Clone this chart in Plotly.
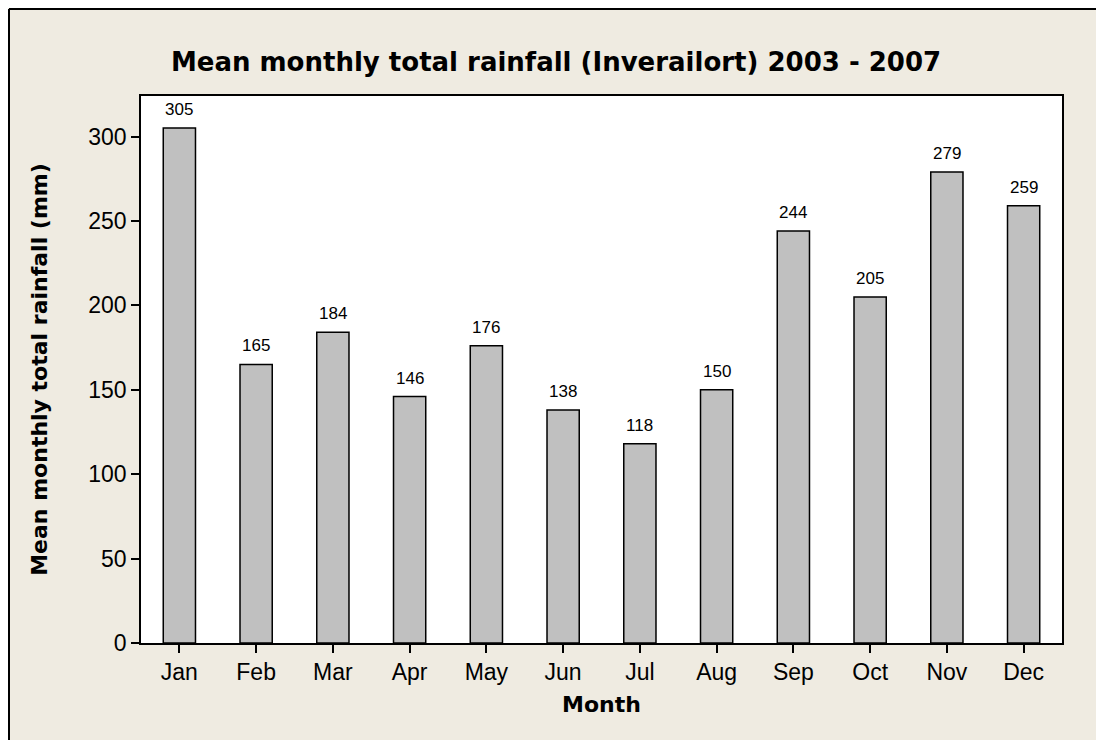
import plotly.graph_objects as go

months = ["Jan", "Feb", "Mar", "Apr", "May", "Jun", "Jul", "Aug", "Sep", "Oct", "Nov", "Dec"]
rainfall = [305, 165, 184, 146, 176, 138, 118, 150, 244, 205, 279, 259]
y_ticks = [0, 50, 100, 150, 200, 250, 300]

W, H = 1096, 732
L, R, T, B = 133, 42, 88, 97
pw, ph = W - L - R, H - T - B

reg = "Liberation Sans"
bold = "DejaVu Sans"
bg = "#efebe1"

fig = go.Figure(go.Bar(
    x=months, y=rainfall, width=0.42,
    marker=dict(color="#c0c0c0", line=dict(color="black", width=1.5)),
))

for m, v in zip(months, rainfall):
    fig.add_annotation(x=m, y=v, text=str(v), showarrow=False, yanchor="bottom",
                       yshift=7, font=dict(family=reg, size=17, color="black"))

# outer frame lines (top and left) at the figure edge
fx = (1 - L) / pw
fy = (H - B - 1) / ph
fig.add_shape(type="line", xref="paper", yref="paper", x0=fx, x1=(W - L) / pw,
              y0=fy, y1=fy, line=dict(color="black", width=2))
fig.add_shape(type="line", xref="paper", yref="paper", x0=fx, x1=fx,
              y0=fy, y1=-B / ph, line=dict(color="black", width=2))

fig.update_layout(
    width=W, height=H,
    margin=dict(l=L, r=R, t=T, b=B),
    paper_bgcolor=bg, plot_bgcolor="white",
    showlegend=False,
    title=dict(text="<b>Mean monthly total rainfall (Inverailort) 2003 - 2007</b>",
               x=0.5, xanchor="center", xref="container", y=1 - 54 / H, yanchor="middle",
               font=dict(family=bold, size=26, color="black")),
    xaxis=dict(range=[-0.5, 11.5], showline=True, linecolor="black", linewidth=1.5, mirror=True,
               ticks="outside", ticklen=8, tickwidth=1.5, tickcolor="black",
               tickfont=dict(family=reg, size=23, color="black"),
               title=dict(text="<b>Month</b>", font=dict(family=bold, size=22, color="black"), standoff=12),
               showgrid=False, zeroline=False),
    yaxis=dict(range=[0, 324], tickvals=y_ticks, showline=True, linecolor="black", linewidth=1.5, mirror=True,
               ticks="outside", ticklen=8, tickwidth=1.5, tickcolor="black",
               tickfont=dict(family=reg, size=23, color="black"),
               title=dict(text="<b>Mean monthly total rainfall (mm)</b>",
                          font=dict(family=bold, size=22, color="black"), standoff=35),
               showgrid=False, zeroline=False),
)

fig.write_html("out.html")
